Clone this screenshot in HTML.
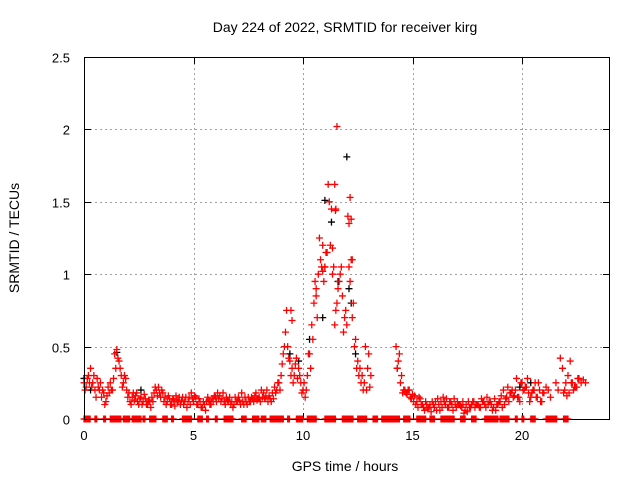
<!DOCTYPE html>
<html><head><meta charset="utf-8"><style>
html,body{margin:0;padding:0;background:#fff;}
svg{display:block;font-family:"Liberation Sans",sans-serif;}
</style></head><body>
<svg id="chart" width="640" height="480">
<text x="345" y="32" text-anchor="middle" font-size="14">Day 224 of 2022, SRMTID for receiver kirg</text>
<text x="345" y="471" text-anchor="middle" font-size="14">GPS time / hours</text>
<text transform="translate(19,238) rotate(-90)" text-anchor="middle" font-size="14">SRMTID / TECUs</text>
<g id="grid"></g><g id="ticks"></g><g id="marks"></g>
<rect x="84.5" y="57.5" width="525" height="362" fill="none" stroke="#000"/>
</svg>
<script>
const xTicks=[0,5,10,15,20];
const yTicks=[0,0.5,1,1.5,2,2.5];
const yTickLabels=["0","0.5","1","1.5","2","2.5"];
const seriesStart=0, seriesStep=0.1;
const valuesA=[0.25,0.22,0.3,0.35,0.25,0.2,0.28,0.2,0.15,0.18,0.12,0.22,0.25,0.2,0.45,0.48,0.4,0.3,0.25,0.28,0.15,0.12,0.15,0.13,0.18,0.1,0.15,0.12,0.14,0.1,0.12,0.15,0.18,0.2,0.22,0.15,0.18,0.15,0.12,0.14,0.1,0.13,0.16,0.12,0.1,0.15,0.12,0.08,0.15,0.18,0.12,0.15,0.1,0.12,0.08,0.1,0.12,0.13,0.1,0.12,0.15,0.18,0.16,0.14,0.12,0.15,0.12,0.1,0.08,0.15,0.12,0.13,0.18,0.1,0.12,0.15,0.12,0.14,0.16,0.13,0.15,0.2,0.18,0.15,0.12,0.14,0.18,0.22,0.2,0.25,0.3,0.45,0.6,0.5,0.4,0.35,0.3,0.42,0.35,0.25,0.2,0.15,0.3,0.45,0.65,0.8,0.9,1.0,1.1,1.2,1.05,1.15,1.5,1.45,1.05,0.75,0.9,1.0,0.85,0.7,0.65,1.35,1.1,0.8,0.55,0.4,0.35,0.3,0.25,0.2,0.45,0.3,null,null,null,null,null,null,null,null,null,null,null,0.35,0.45,0.3,0.2,0.18,0.2,0.15,0.17,0.16,0.12,0.15,0.1,0.08,0.12,0.07,0.1,0.12,0.08,0.06,0.1,0.12,0.15,0.1,0.08,0.12,0.1,0.14,0.08,0.1,0.09,0.12,0.06,0.05,0.08,0.1,0.12,0.1,0.1,0.08,0.12,0.1,0.15,0.12,0.1,0.08,0.06,0.1,0.12,0.08,0.1,0.15,0.12,0.18,0.15,0.2,0.15,0.12,0.25,0.2,0.22,0.18,0.15,0.2,0.25,0.15,0.2,0.12,0.18,0.22,0.2,0.15,null,null,null,null,null,0.18,0.25,0.3,0.4,0.25,0.22,0.22,0.28,0.25,0.27,0.25];
const valuesB=[0.2,0.28,0.25,0.22,0.3,0.15,0.22,0.25,0.2,0.1,0.16,0.18,0.2,0.28,0.35,0.42,0.35,0.22,0.3,0.2,0.18,0.1,0.18,0.16,0.12,0.14,0.1,0.17,0.1,0.13,0.08,0.12,0.22,0.16,0.18,0.2,0.12,0.1,0.16,0.1,0.14,0.09,0.12,0.15,0.13,0.1,0.15,0.12,0.1,0.14,0.16,0.1,0.14,0.08,0.12,0.06,0.15,0.1,0.14,0.16,0.12,0.14,0.12,0.18,0.1,0.13,0.15,0.12,0.1,0.12,0.15,0.1,0.12,0.15,0.1,0.12,0.15,0.12,0.18,0.14,0.12,0.15,0.14,0.2,0.16,0.12,0.14,0.18,0.25,0.2,0.38,0.5,0.75,0.42,0.3,0.25,0.38,0.28,0.3,0.18,0.25,0.2,0.45,0.35,0.55,0.95,0.7,1.25,1.05,0.95,1.15,1.62,1.2,1.0,0.65,0.8,0.95,1.05,0.6,0.75,1.4,0.95,0.7,0.5,0.35,0.3,0.25,0.2,0.5,0.35,0.22,null,null,null,null,null,null,null,null,null,null,null,0.5,0.4,0.25,0.18,0.2,0.17,0.2,0.14,0.12,0.1,0.08,0.14,0.1,0.06,0.1,0.08,0.05,0.1,0.12,0.14,0.06,0.08,0.12,0.14,0.08,0.12,0.06,0.1,0.12,0.1,0.08,0.04,0.1,0.12,0.08,0.12,0.08,0.1,0.08,0.14,0.12,0.08,0.1,0.12,0.06,0.14,0.1,0.12,0.16,0.2,0.14,0.22,0.18,0.2,0.16,0.28,0.15,0.25,0.2,0.22,0.28,0.12,0.18,0.2,0.15,0.25,0.12,0.18,null,null,null,null,null,0.25,0.2,0.42,0.35,0.2,0.16,0.18,0.25,0.2,0.22,0.28];
const peakTimes=[11.55,11.45,11.5,11.48,12.15,12.2,12.25,11.0,11.35,10.9,12.1,10.6,9.5,9.45];
const peakValues=[2.02,1.62,1.45,1.44,1.53,1.38,1.1,1.05,1.18,1.02,1.05,0.85,0.68,0.75];
const blackTimes=[0.0,0.3,1.5,2.6,9.4,9.8,10.3,10.9,11.0,11.3,11.6,12.0,12.1,12.2,12.4,14.3,19.9,20.4];
const blackValues=[0.28,0.2,0.46,0.2,0.45,0.4,0.55,0.7,1.51,1.36,0.95,1.81,0.9,0.8,0.45,0.35,0.22,0.25];
const zeroRuns=[[0,0.3],[0.5,0.6],[0.9,1.0],[1.2,1.7],[1.8,2.1],[2.2,2.6],[2.7,2.8],[3.0,3.3],[3.6,3.8],[4.0,4.1],[4.5,4.9],[5.2,5.4],[5.6,5.7],[6.0,6.1],[6.4,6.8],[7.2,7.4],[7.7,8.0],[8.1,8.3],[8.5,9.1],[9.3,9.4],[9.7,10.0],[10.2,10.6],[11.0,11.5],[11.8,12.3],[12.5,12.9],[13.2,13.4],[13.6,14.4],[14.6,14.9],[15.2,15.6],[15.8,16.0],[16.3,16.9],[17.2,17.4],[17.7,17.9],[18.3,18.9],[19.0,19.4],[19.7,19.8],[20.0,20.1],[20.4,20.6],[21.1,21.6],[21.9,22.1]];
const X=h=>84+h*21.9, Y=v=>419-v*144.8;
const NS="http://www.w3.org/2000/svg";
const grid=document.getElementById('grid'),ticks=document.getElementById('ticks'),marks=document.getElementById('marks');
function ln(p,x1,y1,x2,y2,st,dash){const l=document.createElementNS(NS,'line');l.setAttribute('x1',x1);l.setAttribute('y1',y1);l.setAttribute('x2',x2);l.setAttribute('y2',y2);l.setAttribute('stroke',st);if(dash)l.setAttribute('stroke-dasharray',dash);p.appendChild(l);return l;}
function tx(p,x,y,s,a){const t=document.createElementNS(NS,'text');t.setAttribute('x',x);t.setAttribute('y',y);t.setAttribute('text-anchor',a);t.setAttribute('font-size','13');t.textContent=s;p.appendChild(t);return t;}
xTicks.forEach(v=>{const x=Math.round(X(v))+0.5;
if(v>0){const g=ln(grid,x,58,x,419,'#a0a0a0','2,3');

}
ln(ticks,x,419,x,413,'#000');ln(ticks,x,58,x,64,'#000');
const t=tx(ticks,X(v),440,String(v),'middle');

});
yTicks.forEach((v,i)=>{const y=Math.round(Y(v))+0.5;
if(v>0&&v<2.5){const g=ln(grid,85,y,609,y,'#a0a0a0','2,3');

}
ln(ticks,85,y,91,y,'#000');ln(ticks,609,y,603,y,'#000');
const t=tx(ticks,70,y+5,yTickLabels[i],'end');

});
function plus(h,v,c,name){const x=X(h),y=Y(v);const p=document.createElementNS(NS,'path');
p.setAttribute('d',`M${x-3.5},${y}H${x+3.5}M${x},${y-3.5}V${y+3.5}`);p.setAttribute('stroke',c);p.setAttribute('stroke-width','1.3');p.setAttribute('fill','none');


marks.appendChild(p);}
blackTimes.forEach((t,i)=>plus(t,blackValues[i],'#000','black-point'));
zeroRuns.forEach(r=>{for(let t=r[0];t<=r[1]+1e-6;t+=0.04)plus(t,0,'#f00','zero-point');});
valuesA.forEach((v,i)=>{if(v!==null)plus(seriesStart+i*seriesStep,v,'#f00','srmtid-point');});
valuesB.forEach((v,i)=>{if(v!==null)plus(seriesStart+i*seriesStep+0.05,v,'#f00','srmtid-point');});
peakTimes.forEach((t,i)=>plus(t,peakValues[i],'#f00','peak-point'));
</script>
</body></html>
